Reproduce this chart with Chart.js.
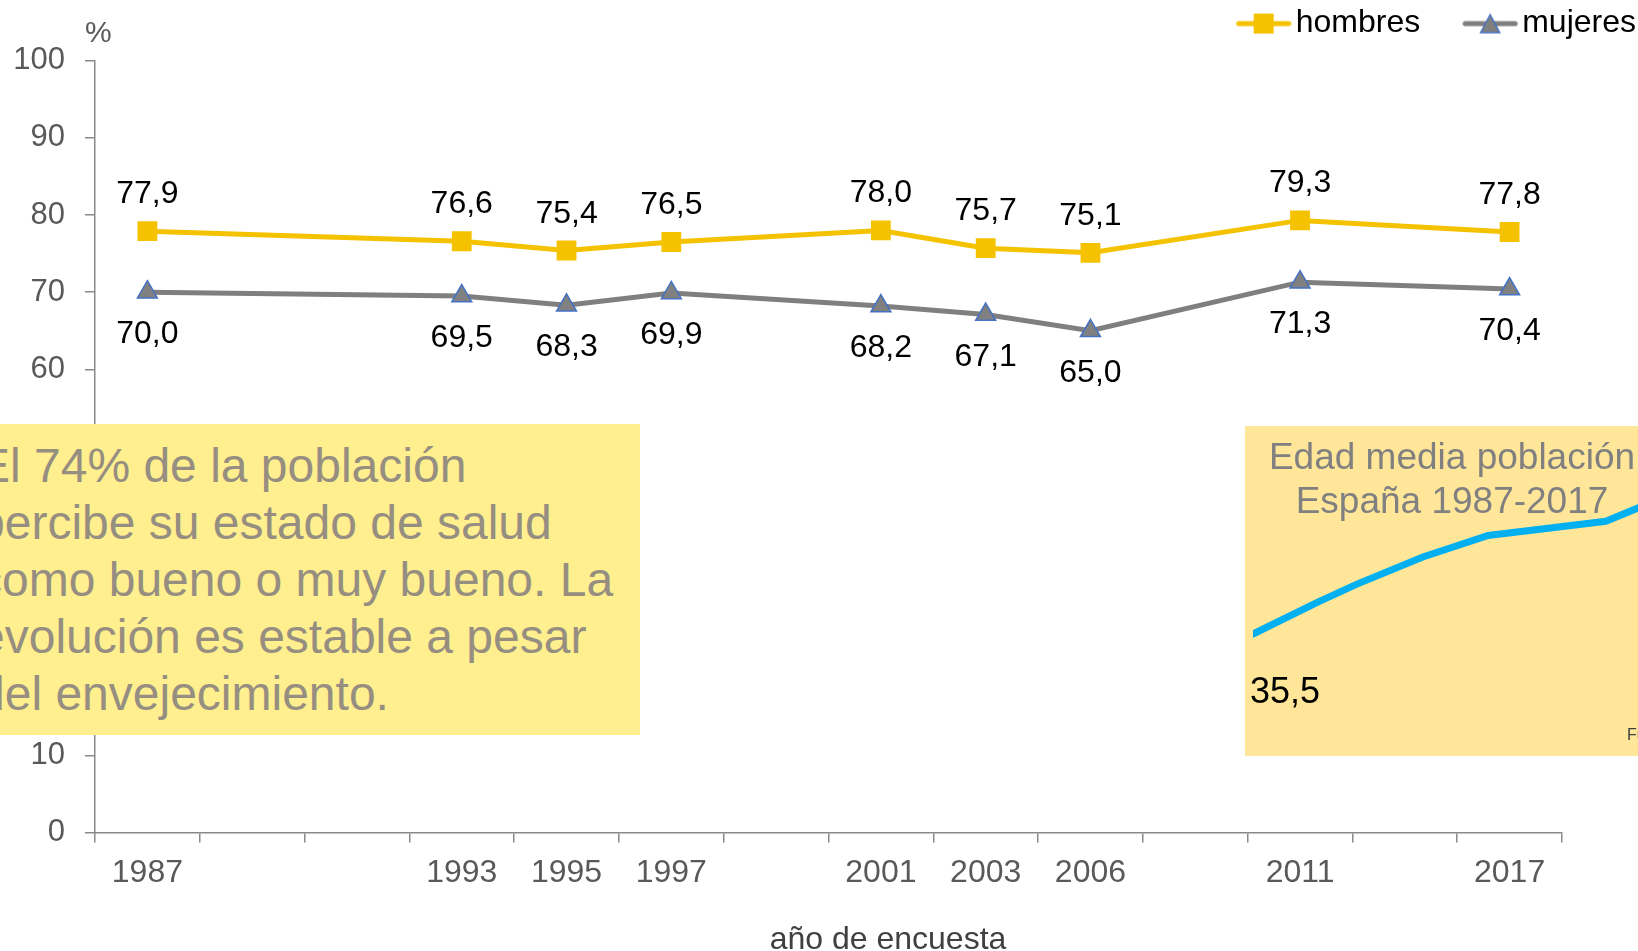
<!DOCTYPE html>
<html>
<head>
<meta charset="utf-8">
<script src="https://cdn.jsdelivr.net/npm/chart.js@4.4.0/dist/chart.umd.min.js"></script>
<style>
  html, body { margin: 0; padding: 0; overflow: hidden; background: #fff; }
  body { position: relative; width: 1638px; height: 951px; font-family: "Liberation Sans", Arial, sans-serif; }
  #main { position: absolute; left: 0; top: -4px; }
  #pct { position: absolute; left: 85px; top: 17px; font-size: 30px; line-height: 30px; color: #595959; }
  #xtitle { position: absolute; left: 688px; top: 922px; width: 400px; text-align: center; font-size: 32px; line-height: 32px; color: #404040; }
  #note { position: absolute; left: 0; top: 424px; width: 640px; height: 311px; background: #FFEF8F; overflow: hidden; }
  #note div { position: absolute; left: -22px; top: 13px; font-size: 48px; line-height: 57px; color: #968e80; white-space: nowrap; }
  #inset { position: absolute; left: 1245px; top: 426px; width: 420px; height: 330px; background: #FFE699; overflow: hidden; }
  #insetChart { position: absolute; left: 0; top: 0; }
  #insetTitle { position: absolute; left: 0; top: 9px; width: 414px; text-align: center; font-size: 37px; line-height: 44px; color: #808080; }
  #source { position: absolute; left: 382px; top: 300px; font-size: 16px; color: #404040; white-space: nowrap; }
</style>
</head>
<body>
<canvas id="main" width="1647" height="955"></canvas>
<div id="pct">%</div>
<div id="xtitle">año de encuesta</div>
<div id="note"><div>El 74% de la población<br>percibe su estado de salud<br>como bueno o muy bueno. La<br>evolución es estable a pesar<br>del envejecimiento.</div></div>
<div id="inset">
  <canvas id="insetChart" width="420" height="330"></canvas>
  <div id="insetTitle">Edad media población<br>España 1987-2017</div>
  <div id="source">Fuente: INE</div>
</div>
<script>
// encuesta years (blank slots keep the uneven spacing of the axis)
const years = ["1987", "", "", "1993", "1995", "1997", "", "2001", "2003", "2006", "", "2011", "", "2017"];
const hombres = [77.9, null, null, 76.6, 75.4, 76.5, null, 78.0, 75.7, 75.1, null, 79.3, null, 77.8];
const mujeres = [70.0, null, null, 69.5, 68.3, 69.9, null, 68.2, 67.1, 65.0, null, 71.3, null, 70.4];

// inset: edad media
const insetYears = [1987, 1992, 1995, 2000, 2005, 2014, 2017];
const insetAges = [35.5, 37.3, 38.3, 39.8, 41.0, 41.8, 42.7];

Chart.defaults.font.family = '"Liberation Sans", Arial, sans-serif';
Chart.defaults.animation = false;

const axisGray = "#898989";

function legendIcon(color, shape, border) {
  const c = document.createElement("canvas");
  c.width = 99;
  c.height = 24;
  const g = c.getContext("2d");
  g.strokeStyle = color;
  g.lineWidth = 5;
  g.lineCap = "round";
  g.beginPath();
  g.moveTo(46, 12);
  g.lineTo(96, 12);
  g.stroke();
  g.fillStyle = color;
  if (shape === "rect") {
    g.fillRect(61, 2, 20, 20);
  } else {
    g.beginPath();
    g.moveTo(71, 3);
    g.lineTo(80.5, 21);
    g.lineTo(61.5, 21);
    g.closePath();
    g.fill();
    g.strokeStyle = border;
    g.lineWidth = 1.5;
    g.stroke();
  }
  return c;
}

const valueLabels = {
  id: "valueLabels",
  afterDatasetsDraw(chart) {
    const ctx = chart.ctx;
    ctx.save();
    ctx.font = '32px "Liberation Sans", Arial, sans-serif';
    ctx.fillStyle = "#000";
    ctx.textAlign = "center";
    ctx.textBaseline = "alphabetic";
    chart.data.datasets.forEach((ds, i) => {
      chart.getDatasetMeta(i).data.forEach((pt, j) => {
        const v = ds.data[j];
        if (v === null) return;
        ctx.fillText(v.toFixed(1).replace(".", ","), pt.x, pt.y + ds.labelOffset);
      });
    });
    ctx.restore();
  },
};

new Chart(document.getElementById("main"), {
  type: "line",
  data: {
    labels: years,
    datasets: [
      {
        label: "hombres",
        data: hombres,
        borderColor: "#F5C200",
        backgroundColor: "#F5C200",
        borderWidth: 5,
        pointStyle: "rect",
        pointRadius: 14,
        pointBorderWidth: 0,
        spanGaps: true,
        tension: 0,
        labelOffset: -28,
        legendShape: "rect",
      },
      {
        label: "mujeres",
        data: mujeres,
        borderColor: "#7F7F7F",
        backgroundColor: "#808080",
        pointBorderColor: "#4472C4",
        borderWidth: 5,
        pointStyle: "triangle",
        pointRadius: 11.5,
        pointBorderWidth: 1.5,
        spanGaps: true,
        tension: 0,
        labelOffset: 51,
        legendShape: "triangle",
      },
    ],
  },
  options: {
    responsive: false,
    layout: { padding: { top: 0.6, left: 0, right: 0, bottom: 0 } },
    events: [],
    plugins: {
      tooltip: { enabled: false },
      // empty title used as a spacer between legend and plot
      title: { display: true, text: "", weight: 500, padding: 0, font: { size: 11, lineHeight: 1 } },
      legend: {
        position: "top",
        align: "end",
        labels: {
          usePointStyle: true,
          pointStyleWidth: 75,
          padding: 11,
          color: "#000",
          font: { size: 32 },
          generateLabels: (chart) =>
            chart.data.datasets.map((ds, i) => ({
              text: ds.label,
              pointStyle: legendIcon(ds.borderColor, ds.legendShape, ds.pointBorderColor),
              fillStyle: ds.backgroundColor,
              strokeStyle: ds.borderColor,
              lineWidth: 0,
              hidden: false,
              datasetIndex: i,
            })),
        },
      },
    },
    scales: {
      x: {
        type: "category",
        offset: true,
        grid: { offset: true, drawOnChartArea: false, tickLength: 10, color: axisGray, lineWidth: 1.5 },
        border: { color: axisGray, width: 1.5 },
        ticks: { autoSkip: false, maxRotation: 0, color: "#595959", font: { size: 32 }, padding: 11 },
        afterFit: (s) => { s.height = 118.4; },
      },
      y: {
        min: 0,
        max: 100,
        ticks: { stepSize: 10, color: "#595959", font: { size: 31 }, padding: 20 },
        grid: { drawOnChartArea: false, tickLength: 10, color: axisGray, lineWidth: 1.5 },
        border: { color: axisGray, width: 1.5 },
        afterFit: (s) => { s.width = 95; },
      },
      yR: {
        position: "right",
        grid: { display: false },
        border: { display: false },
        ticks: { display: false },
        afterFit: (s) => { s.width = 85; },
      },
    },
  },
  plugins: [valueLabels],
});

const firstLabel = {
  id: "firstLabel",
  afterDatasetsDraw(chart) {
    const pt = chart.getDatasetMeta(0).data[0];
    const ctx = chart.ctx;
    ctx.save();
    ctx.font = '36px "Liberation Sans", Arial, sans-serif';
    ctx.fillStyle = "#000";
    ctx.textAlign = "left";
    ctx.fillText(insetAges[0].toFixed(1).replace(".", ","), pt.x - 3, pt.y + 69);
    ctx.restore();
  },
};

new Chart(document.getElementById("insetChart"), {
  type: "line",
  data: {
    datasets: [
      {
        data: insetYears.map((y, i) => ({ x: y, y: insetAges[i] })),
        borderColor: "#00B0F0",
        borderWidth: 7,
        borderCapStyle: "round",
        pointRadius: 0,
        tension: 0,
      },
    ],
  },
  options: {
    responsive: false,
    events: [],
    layout: { padding: { left: 8, right: 20, top: 20, bottom: 59.3 } },
    plugins: { legend: { display: false }, tooltip: { enabled: false } },
    scales: {
      x: { type: "linear", min: 1987, max: 2017, display: false },
      y: { min: 32, max: 46, display: false },
    },
  },
  plugins: [firstLabel],
});
</script>
</body>
</html>
